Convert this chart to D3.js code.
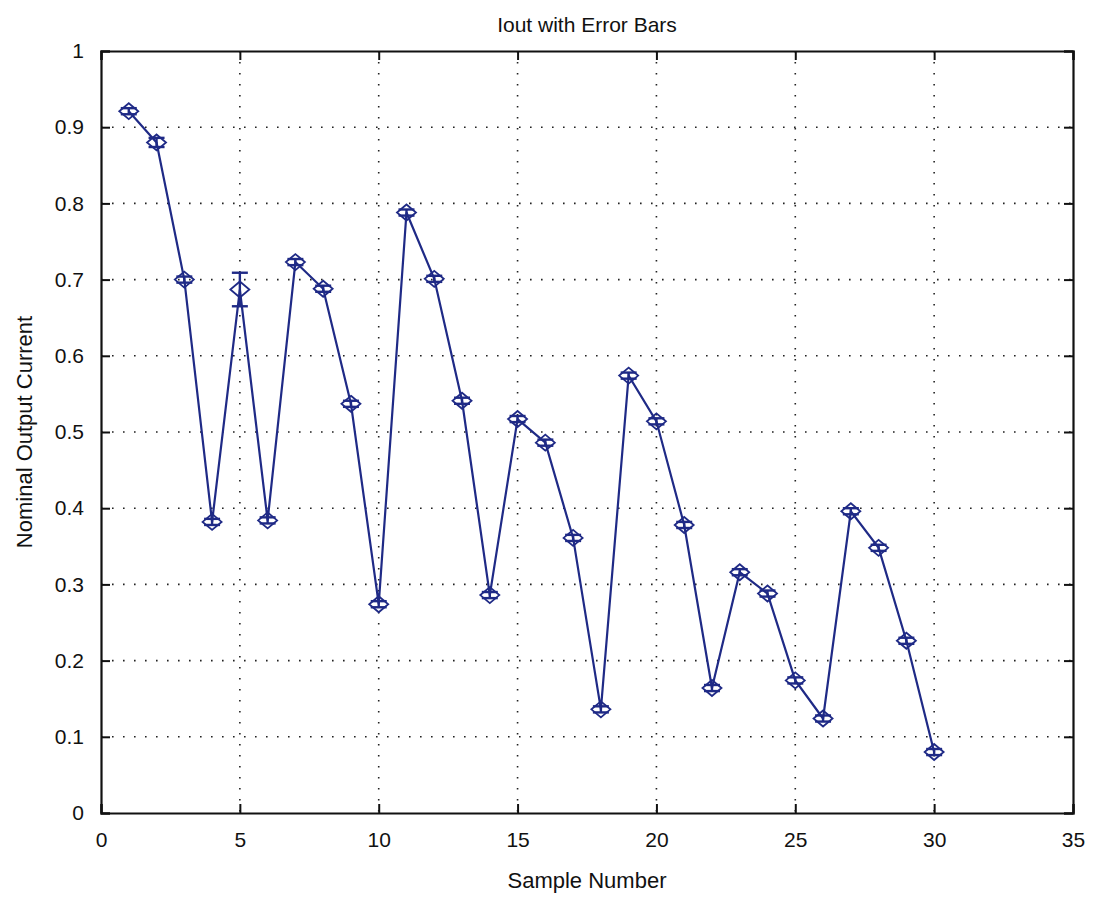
<!DOCTYPE html>
<html>
<head>
<meta charset="utf-8">
<script src="https://cdn.jsdelivr.net/npm/d3@7"></script>
<style>
  body { margin: 0; background: #fff; }
  text { font-family: "Liberation Sans", Arial, sans-serif; fill: #111; }
</style>
</head>
<body>
<svg id="chart" width="1095" height="900"></svg>
<script>
// sample numbers and nominal output current
const samples = d3.range(1, 31);
const current = [0.921, 0.880, 0.700, 0.382, 0.687, 0.384, 0.723, 0.688, 0.537, 0.274,
                 0.788, 0.701, 0.541, 0.286, 0.517, 0.486, 0.361, 0.136, 0.574, 0.514,
                 0.378, 0.164, 0.316, 0.288, 0.174, 0.124, 0.396, 0.348, 0.226, 0.080];
const errors = [0.004, 0.006, 0.004, 0.004, 0.022, 0.004, 0.004, 0.004, 0.004, 0.004,
                0.004, 0.004, 0.004, 0.004, 0.004, 0.004, 0.004, 0.004, 0.004, 0.004,
                0.004, 0.004, 0.004, 0.004, 0.004, 0.004, 0.004, 0.004, 0.004, 0.004];
const xTicks = [0, 5, 10, 15, 20, 25, 30, 35];
const yTicks = [0, 0.1, 0.2, 0.3, 0.4, 0.5, 0.6, 0.7, 0.8, 0.9, 1];

const svg = d3.select("#chart");
const margin = {top: 51, right: 22, bottom: 87, left: 101};
const width = 1095 - margin.left - margin.right;
const height = 900 - margin.top - margin.bottom;
const g = svg.append("g").attr("transform", `translate(${margin.left},${margin.top})`);

const x = d3.scaleLinear().domain([0, 35]).range([0, width]);
const y = d3.scaleLinear().domain([0, 1]).range([height, 0]);
const blue = "#1f2a86";

// dotted grid
g.selectAll(".gx").data(xTicks.slice(1, -1)).enter().append("line")
  .attr("x1", d => x(d)).attr("x2", d => x(d))
  .attr("y1", 0).attr("y2", height)
  .attr("stroke", "#222").attr("stroke-width", 1.6)
  .attr("stroke-dasharray", "1.6,9.4");
g.selectAll(".gy").data(yTicks.slice(1, -1)).enter().append("line")
  .attr("x1", 0).attr("x2", width)
  .attr("y1", d => y(d)).attr("y2", d => y(d))
  .attr("stroke", "#222").attr("stroke-width", 1.6)
  .attr("stroke-dasharray", "1.6,9.4");

// axes with inward ticks on all sides
const tk = 9;
g.append("g").attr("transform", `translate(0,${height})`)
  .call(d3.axisBottom(x).tickValues(xTicks).tickSize(-tk).tickPadding(tk + 10).tickFormat(d3.format("d")));
g.append("g")
  .call(d3.axisTop(x).tickValues(xTicks).tickSize(-tk).tickFormat(""));
g.append("g")
  .call(d3.axisLeft(y).tickValues(yTicks).tickSize(-tk).tickPadding(tk + 8).tickFormat(d => d === 0 || d === 1 ? d3.format("d")(d) : d3.format(".1f")(d)));
g.append("g").attr("transform", `translate(${width},0)`)
  .call(d3.axisRight(y).tickValues(yTicks).tickSize(-tk).tickFormat(""));

g.selectAll(".domain").attr("stroke", "#111").attr("stroke-width", 2.2);
g.selectAll(".tick line").attr("stroke", "#111").attr("stroke-width", 2);
g.selectAll(".tick text").attr("font-size", 21).attr("fill", "#111")
  .style("font-family", "'Liberation Sans', Arial, sans-serif");

// series line
const pts = samples.map((s, i) => ({s, v: current[i], e: errors[i]}));
g.append("path").datum(pts)
  .attr("fill", "none").attr("stroke", blue).attr("stroke-width", 2.2)
  .attr("d", d3.line().x(d => x(d.s)).y(d => y(d.v)));

// error bars
const cap = 8;
const eb = g.selectAll(".eb").data(pts).enter().append("g").attr("stroke", blue).attr("stroke-width", 2.4);
eb.append("line")
  .attr("x1", d => x(d.s)).attr("x2", d => x(d.s))
  .attr("y1", d => y(d.v - d.e)).attr("y2", d => y(d.v + d.e));
eb.append("line")
  .attr("x1", d => x(d.s) - cap).attr("x2", d => x(d.s) + cap)
  .attr("y1", d => y(d.v - d.e)).attr("y2", d => y(d.v - d.e));
eb.append("line")
  .attr("x1", d => x(d.s) - cap).attr("x2", d => x(d.s) + cap)
  .attr("y1", d => y(d.v + d.e)).attr("y2", d => y(d.v + d.e));

// diamond markers
const mw = 9.5, mh = 8;
g.selectAll(".mk").data(pts).enter().append("path")
  .attr("d", d => {
    const cx = x(d.s), cy = y(d.v);
    return `M${cx},${cy - mh}L${cx + mw},${cy}L${cx},${cy + mh}L${cx - mw},${cy}Z`;
  })
  .attr("fill", "none").attr("stroke", blue).attr("stroke-width", 1.8);

// texts
svg.append("text").attr("x", margin.left + width / 2).attr("y", 32)
  .attr("text-anchor", "middle").attr("font-size", 21).text("Iout with Error Bars");
svg.append("text").attr("x", margin.left + width / 2).attr("y", 888)
  .attr("text-anchor", "middle").attr("font-size", 22).text("Sample Number");
svg.append("text")
  .attr("transform", `translate(32,${margin.top + height / 2}) rotate(-90)`)
  .attr("text-anchor", "middle").attr("font-size", 22).text("Nominal Output Current");
</script>
</body>
</html>
